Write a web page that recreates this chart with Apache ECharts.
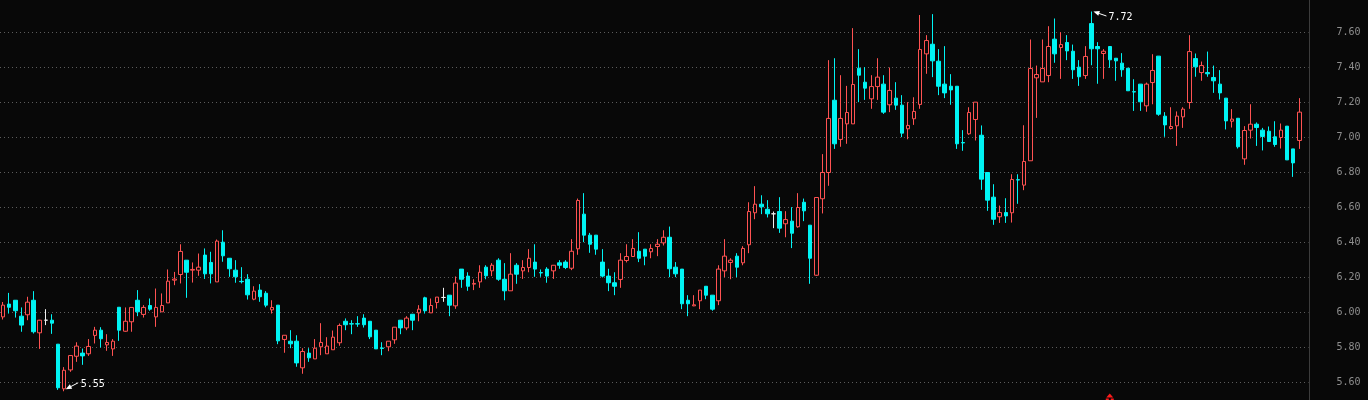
<!DOCTYPE html>
<html>
<head>
<meta charset="utf-8">
<script src="https://cdn.jsdelivr.net/npm/echarts@6/dist/echarts.min.js"></script>
<style>
html,body{margin:0;padding:0;background:#080808;}
#main{width:1368px;height:400px;}
</style>
</head>
<body>
<div id="main"></div>
<script>
// ---- data ----
const opens = [5.975, 6.048, 6.070, 5.979, 5.987, 6.070, 5.884, 5.956, 5.956, 5.819,
5.564, 5.672, 5.750, 5.768, 5.764, 5.869, 5.899, 5.815, 5.792, 6.030,
5.893, 5.947, 6.070, 5.989, 6.040, 5.975, 6.004, 6.055, 6.185, 6.217,
6.299, 6.242, 6.242, 6.328, 6.286, 6.175, 6.402, 6.310, 6.242, 6.178,
6.190, 6.076, 6.128, 6.110, 6.015, 6.042, 5.846, 5.836, 5.836, 5.684,
5.768, 5.735, 5.804, 5.764, 5.787, 5.827, 5.950, 5.936, 5.936, 5.968,
5.950, 5.899, 5.797, 5.804, 5.844, 5.956, 5.912, 5.990, 5.998, 6.084,
5.998, 6.057, 6.086, 6.099, 6.038, 6.248, 6.208, 6.162, 6.175, 6.259,
6.238, 6.299, 6.190, 6.124, 6.270, 6.238, 6.257, 6.288, 6.228, 6.248,
6.238, 6.284, 6.288, 6.253, 6.364, 6.562, 6.442, 6.442, 6.288, 6.208,
6.170, 6.189, 6.297, 6.320, 6.350, 6.362, 6.347, 6.377, 6.398, 6.430,
6.259, 6.248, 6.070, 6.038, 6.067, 6.150, 6.099, 6.067, 6.238, 6.286,
6.322, 6.284, 6.387, 6.570, 6.619, 6.590, 6.564, 6.577, 6.507, 6.522,
6.490, 6.630, 6.499, 6.213, 6.650, 6.800, 7.213, 6.989, 7.078, 7.078,
7.396, 7.316, 7.221, 7.291, 7.305, 7.187, 7.225, 7.185, 7.050, 7.107,
7.189, 7.478, 7.533, 7.436, 7.305, 7.293, 7.293, 6.971, 7.021, 7.103,
7.013, 6.800, 6.659, 6.547, 6.571, 6.570, 6.759, 6.728, 6.867, 7.341,
7.318, 7.354, 7.562, 7.514, 7.543, 7.493, 7.402, 7.354, 7.651, 7.520,
7.480, 7.520, 7.453, 7.425, 7.396, 7.262, 7.305, 7.181, 7.314, 7.465,
7.122, 7.051, 7.067, 7.118, 7.200, 7.451, 7.371, 7.371, 7.343, 7.305,
7.225, 7.093, 7.110, 6.878, 7.042, 7.076, 7.042, 7.036, 7.004, 7.000,
7.065, 6.935, 6.983];

const closes = [6.042, 6.030, 6.010, 5.928, 6.059, 5.890, 5.956, 5.956, 5.939, 5.570,
5.670, 5.754, 5.808, 5.752, 5.806, 5.899, 5.850, 5.829, 5.836, 5.899,
5.950, 6.029, 6.004, 6.029, 6.019, 6.029, 6.040, 6.179, 6.191, 6.349,
6.230, 6.246, 6.259, 6.221, 6.221, 6.408, 6.324, 6.250, 6.204, 6.176,
6.101, 6.122, 6.090, 6.042, 6.029, 5.838, 5.870, 5.821, 5.712, 5.777,
5.741, 5.796, 5.829, 5.808, 5.859, 5.926, 5.930, 5.934, 5.934, 5.930,
5.861, 5.792, 5.795, 5.836, 5.916, 5.912, 5.968, 5.956, 6.019, 6.010,
6.040, 6.088, 6.086, 6.042, 6.168, 6.190, 6.150, 6.166, 6.230, 6.210,
6.270, 6.190, 6.124, 6.219, 6.219, 6.257, 6.310, 6.248, 6.226, 6.208,
6.270, 6.270, 6.257, 6.350, 6.640, 6.442, 6.390, 6.362, 6.208, 6.170,
6.150, 6.299, 6.320, 6.366, 6.310, 6.322, 6.366, 6.390, 6.430, 6.250,
6.221, 6.050, 6.050, 6.044, 6.128, 6.099, 6.019, 6.248, 6.322, 6.299,
6.259, 6.366, 6.577, 6.619, 6.604, 6.564, 6.564, 6.482, 6.531, 6.453,
6.600, 6.581, 6.310, 6.657, 6.800, 7.109, 6.964, 7.109, 7.143, 7.303,
7.356, 7.282, 7.291, 7.345, 7.145, 7.269, 7.185, 7.025, 7.069, 7.149,
7.503, 7.554, 7.438, 7.293, 7.255, 7.272, 6.964, 6.969, 7.143, 7.202,
6.762, 6.642, 6.533, 6.571, 6.552, 6.760, 6.757, 6.863, 7.394, 7.360,
7.394, 7.520, 7.478, 7.531, 7.495, 7.387, 7.347, 7.463, 7.507, 7.507,
7.493, 7.444, 7.438, 7.387, 7.267, 7.260, 7.204, 7.305, 7.383, 7.133,
7.072, 7.063, 7.122, 7.162, 7.491, 7.404, 7.411, 7.364, 7.324, 7.255,
7.095, 7.105, 6.947, 7.040, 7.076, 7.057, 7.006, 6.977, 6.960, 7.042,
6.872, 6.855, 7.145];

const lows = [5.960, 5.994, 5.971, 5.890, 5.956, 5.880, 5.792, 5.928, 5.878, 5.558,
5.550, 5.661, 5.718, 5.701, 5.752, 5.823, 5.800, 5.781, 5.752, 5.838,
5.890, 5.890, 5.979, 5.971, 6.010, 5.918, 6.004, 6.055, 6.156, 6.166,
6.084, 6.171, 6.210, 6.192, 6.166, 6.175, 6.290, 6.204, 6.170, 6.166,
6.074, 6.070, 6.061, 6.030, 5.994, 5.819, 5.770, 5.796, 5.690, 5.650,
5.718, 5.735, 5.756, 5.764, 5.787, 5.810, 5.899, 5.876, 5.918, 5.914,
5.848, 5.792, 5.756, 5.779, 5.821, 5.876, 5.899, 5.899, 5.950, 5.994,
5.998, 6.023, 6.061, 5.979, 6.021, 6.141, 6.124, 6.128, 6.141, 6.190,
6.208, 6.181, 6.070, 6.124, 6.164, 6.192, 6.230, 6.204, 6.204, 6.170,
6.192, 6.250, 6.248, 6.242, 6.330, 6.402, 6.341, 6.330, 6.200, 6.122,
6.099, 6.141, 6.286, 6.320, 6.288, 6.270, 6.310, 6.322, 6.383, 6.202,
6.202, 6.019, 5.979, 6.036, 6.019, 6.076, 6.010, 6.042, 6.202, 6.190,
6.202, 6.270, 6.339, 6.533, 6.562, 6.543, 6.482, 6.455, 6.430, 6.368,
6.484, 6.522, 6.164, 6.210, 6.566, 6.724, 6.935, 6.947, 6.964, 7.078,
7.202, 7.215, 7.164, 7.215, 7.135, 7.145, 7.158, 7.002, 6.990, 7.072,
7.164, 7.364, 7.345, 7.242, 7.225, 7.187, 6.935, 6.924, 7.015, 6.983,
6.701, 6.581, 6.501, 6.512, 6.512, 6.514, 6.621, 6.699, 6.867, 7.112,
7.318, 7.316, 7.427, 7.335, 7.442, 7.335, 7.295, 7.335, 7.413, 7.307,
7.335, 7.398, 7.324, 7.347, 7.267, 7.152, 7.152, 7.147, 7.190, 7.124,
7.004, 7.046, 6.952, 7.055, 7.164, 7.347, 7.324, 7.347, 7.255, 7.217,
7.046, 7.057, 6.937, 6.844, 6.994, 6.952, 6.926, 6.977, 6.947, 6.937,
6.872, 6.775, 6.935];

const highs = [6.060, 6.112, 6.070, 6.029, 6.090, 6.122, 5.958, 6.019, 5.990, 5.819,
5.688, 5.754, 5.830, 5.794, 5.848, 5.918, 5.916, 5.876, 5.848, 6.030,
6.029, 6.030, 6.128, 6.042, 6.080, 6.137, 6.109, 6.246, 6.232, 6.390,
6.300, 6.286, 6.337, 6.366, 6.347, 6.417, 6.470, 6.310, 6.299, 6.259,
6.219, 6.150, 6.162, 6.122, 6.070, 6.042, 5.870, 5.899, 5.870, 5.796,
5.796, 5.848, 5.939, 5.859, 5.897, 5.937, 5.966, 5.956, 5.979, 5.990,
5.950, 5.899, 5.830, 5.836, 5.916, 5.956, 5.979, 5.990, 6.042, 6.090,
6.080, 6.088, 6.141, 6.099, 6.206, 6.248, 6.230, 6.190, 6.270, 6.270,
6.282, 6.310, 6.282, 6.339, 6.282, 6.299, 6.362, 6.390, 6.246, 6.259,
6.270, 6.299, 6.299, 6.419, 6.651, 6.682, 6.455, 6.442, 6.362, 6.250,
6.230, 6.339, 6.390, 6.419, 6.459, 6.362, 6.390, 6.419, 6.470, 6.491,
6.288, 6.248, 6.099, 6.099, 6.128, 6.150, 6.099, 6.270, 6.419, 6.310,
6.339, 6.379, 6.630, 6.722, 6.670, 6.642, 6.577, 6.659, 6.579, 6.602,
6.682, 6.651, 6.499, 6.660, 6.905, 7.442, 7.453, 7.356, 7.295, 7.625,
7.505, 7.402, 7.356, 7.453, 7.356, 7.400, 7.316, 7.242, 7.202, 7.230,
7.700, 7.585, 7.705, 7.505, 7.522, 7.362, 7.293, 7.042, 7.173, 7.202,
7.069, 6.800, 6.733, 6.611, 6.653, 6.790, 6.790, 7.070, 7.560, 7.411,
7.560, 7.636, 7.680, 7.602, 7.585, 7.531, 7.442, 7.522, 7.720, 7.545,
7.505, 7.520, 7.453, 7.482, 7.396, 7.333, 7.305, 7.314, 7.476, 7.465,
7.145, 7.173, 7.149, 7.173, 7.585, 7.480, 7.434, 7.491, 7.411, 7.385,
7.225, 7.162, 7.110, 7.065, 7.190, 7.086, 7.055, 7.063, 7.093, 7.080,
7.065, 6.935, 7.225];

// right-axis tick labels
const yTicks = ['5.60', '5.80', '6.00', '6.20', '6.40', '6.60', '6.80', '7.00', '7.20', '7.40', '7.60'];
// signal markers (bar indices)
const signals = [181];
// one empty slot after the last bar
const categories = opens.map((_, i) => String(i + 1)).concat(['']);

// ---- styles ----
const BG = '#080808';
const UP = '#ff5252';
const DOWN = '#00f4f4';
const DOJI = '#f0f0f0';
const AXIS = '#3c3c3c';

const candleData = opens.map((o, i) => {
  const item = { value: [o, closes[i], lows[i], highs[i]] };
  if (o === closes[i]) {
    item.itemStyle = { color: DOJI, color0: DOJI, borderColor: DOJI, borderColor0: DOJI, borderColorDoji: DOJI };
  }
  return item;
});

const yMin = parseFloat(yTicks[0]);
const yMax = parseFloat(yTicks[yTicks.length - 1]);
const yStep = parseFloat(yTicks[1]) - yMin;

const chart = echarts.init(document.getElementById('main'), null, { renderer: 'canvas' });
const option = {
  backgroundColor: BG,
  animation: false,
  grid: { left: -3.9, right: 59.5, top: 32.5, bottom: 17.5, containLabel: false },
  xAxis: {
    type: 'category', data: categories, boundaryGap: true, show: false
  },
  yAxis: {
    type: 'value', position: 'right', min: yMin, max: yMax, interval: yStep,
    axisLine: { show: false },
    axisTick: { show: false },
    axisLabel: {
      color: '#8e8e8e', fontFamily: 'DejaVu Sans Mono', fontSize: 10,
      align: 'right', margin: 52,
      formatter: v => yTicks[Math.round((v - yMin) / yStep)] || ''
    },
    splitLine: { show: true, lineStyle: { color: '#5c5c5c', width: 1, type: [1, 3] } }
  },
  series: [{
    type: 'candlestick',
    data: candleData,
    barWidth: 4,
    clip: false,
    itemStyle: {
      color: BG, color0: DOWN,
      borderColor: UP, borderColor0: DOWN, borderColorDoji: DOJI,
      borderWidth: 1
    }
  }]
};
chart.setOption(option);

// ---- annotations (positions come from the chart's own scales) ----
function arrow(tip, tail, color) {
  const dx = tail[0] - tip[0], dy = tail[1] - tip[1];
  const len = Math.hypot(dx, dy);
  const ux = dx / len, uy = dy / len;
  const hl = 6, hw = 2.5;
  const bx = tip[0] + ux * hl, by = tip[1] + uy * hl;
  return [
    { type: 'line', shape: { x1: bx, y1: by, x2: tail[0], y2: tail[1] }, style: { stroke: color, lineWidth: 1 }, silent: true },
    { type: 'polygon', shape: { points: [tip, [bx - uy * hw, by + ux * hw], [bx + uy * hw, by - ux * hw]] }, style: { fill: color }, silent: true }
  ];
}
const hiVal = Math.max(...highs), hiIdx = highs.indexOf(hiVal);
const loVal = Math.min(...lows), loIdx = lows.indexOf(loVal);
const ph = chart.convertToPixel({ gridIndex: 0 }, [hiIdx, hiVal]);
const pl = chart.convertToPixel({ gridIndex: 0 }, [loIdx, loVal]);
const textStyle = (t) => ({ text: t, fill: '#ffffff', fontFamily: 'DejaVu Sans Mono', fontSize: 10, verticalAlign: 'middle', align: 'left' });
const elements = [];

// full-height right axis line at the plot's right edge
const H = chart.getHeight();
const x0 = chart.convertToPixel({ xAxisIndex: 0 }, 0);
const x1 = chart.convertToPixel({ xAxisIndex: 0 }, 1);
const band = x1 - x0;
const axisX = Math.round(chart.convertToPixel({ xAxisIndex: 0 }, categories.length - 1) + band / 2) + 0.5;
elements.push({ type: 'line', shape: { x1: axisX, y1: 0, x2: axisX, y2: H }, style: { stroke: AXIS, lineWidth: 1 }, silent: true, z: 0 });

elements.push(...arrow([ph[0] + 2, ph[1]], [ph[0] + 15, ph[1] + 4.5], '#ffffff'));
elements.push({ type: 'text', x: ph[0] + 17, y: ph[1] + 5.5, style: textStyle(hiVal.toFixed(2)), silent: true });
elements.push(...arrow([pl[0] + 1.5, pl[1] - 2], [pl[0] + 14, pl[1] - 8.5], '#ffffff'));
elements.push({ type: 'text', x: pl[0] + 16.5, y: pl[1] - 6.5, style: textStyle(loVal.toFixed(2)), silent: true });

signals.forEach(idx => {
  const x = chart.convertToPixel({ xAxisIndex: 0 }, idx);
  elements.push({ type: 'polygon', shape: { points: [[x, H - 6.5], [x - 3.5, H - 2.5], [x + 3.5, H - 2.5]] }, style: { fill: '#ff1a1a' }, silent: true });
  elements.push({ type: 'rect', shape: { x: x - 4, y: H - 1.5, width: 3, height: 1.5 }, style: { fill: '#ff1a1a' }, silent: true });
  elements.push({ type: 'rect', shape: { x: x + 1, y: H - 1.5, width: 3, height: 1.5 }, style: { fill: '#ff1a1a' }, silent: true });
});
chart.setOption({ graphic: elements });
</script>
</body>
</html>
